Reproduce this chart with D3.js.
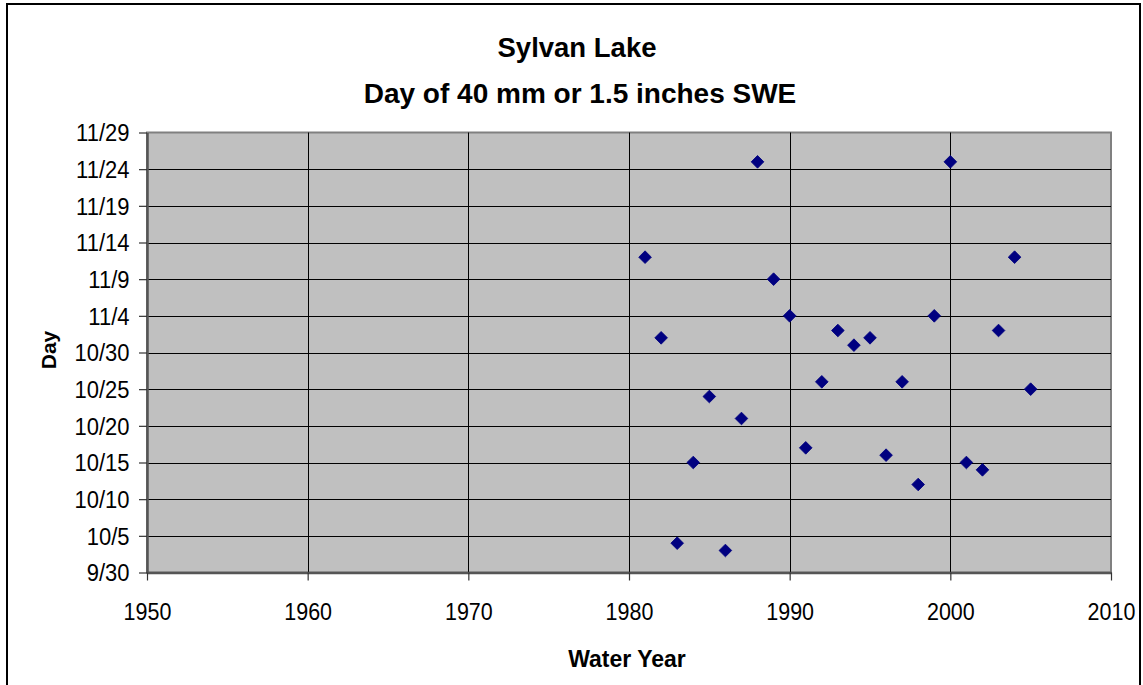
<!DOCTYPE html>
<html>
<head>
<meta charset="utf-8">
<script src="https://cdn.jsdelivr.net/npm/d3@7"></script>
<style>
  html, body { margin: 0; padding: 0; background: #ffffff; }
  svg { display: block; }
  text { font-family: "Liberation Sans", Arial, sans-serif; fill: #000; }
</style>
</head>
<body>
<svg id="chart" width="1143" height="685"></svg>
<script>
// ---- data ----
const titleLines = ["Sylvan Lake", "Day of 40 mm or 1.5 inches SWE"];
const xLabel = "Water Year";
const yLabel = "Day";
const years = [1981, 1982, 1983, 1984, 1985, 1986, 1987, 1988, 1989, 1990,
               1991, 1992, 1993, 1994, 1995, 1996, 1997, 1998, 1999, 2000,
               2001, 2002, 2003, 2004, 2005];
const days = ["11/12", "11/1", "10/4", "10/15", "10/24", "10/3", "10/21", "11/25", "11/9", "11/4",
              "10/17", "10/26", "11/2", "10/31", "11/1", "10/16", "10/26", "10/12", "11/4", "11/25",
              "10/15", "10/14", "11/2", "11/12", "10/25"];
const xTicks = [1950, 1960, 1970, 1980, 1990, 2000, 2010];
const yTickLabels = ["9/30", "10/5", "10/10", "10/15", "10/20", "10/25", "10/30",
                     "11/4", "11/9", "11/14", "11/19", "11/24", "11/29"];

// ---- layout ----
const W = 1143, H = 685;
const plot = { left: 147, right: 1111, top: 132.5, bottom: 572.5 };
const stretch = 1.12;

const parseDay = d3.utcParse("%m/%d");
const fmtDay = d3.utcFormat("%-m/%-d");
const yTickDates = yTickLabels.map(parseDay);

const x = d3.scaleLinear().domain([xTicks[0], xTicks[xTicks.length - 1]]).range([plot.left, plot.right]);
const y = d3.scaleUtc().domain([yTickDates[0], yTickDates[yTickDates.length - 1]]).range([plot.bottom, plot.top]);

const svg = d3.select("#chart");

// outer border
svg.append("rect").attr("x", 7).attr("y", 4).attr("width", 1133).attr("height", 690)
  .attr("fill", "#fff").attr("stroke", "#000").attr("stroke-width", 2);

// plot background
svg.append("rect").attr("x", plot.left).attr("y", plot.top)
  .attr("width", plot.right - plot.left).attr("height", plot.bottom - plot.top)
  .attr("fill", "#c0c0c0").attr("stroke", "#808080").attr("stroke-width", 2);

// gridlines
svg.append("g").selectAll("line").data(yTickDates.slice(1, -1)).join("line")
  .attr("x1", plot.left).attr("x2", plot.right)
  .attr("y1", d => Math.round(y(d)) + 0.5).attr("y2", d => Math.round(y(d)) + 0.5)
  .attr("stroke", "#000").attr("stroke-width", 1);
svg.append("g").selectAll("line").data(xTicks.slice(1, -1)).join("line")
  .attr("y1", plot.top).attr("y2", plot.bottom)
  .attr("x1", d => Math.round(x(d)) + 0.5).attr("x2", d => Math.round(x(d)) + 0.5)
  .attr("stroke", "#000").attr("stroke-width", 1);

// axes
const yAxis = d3.axisLeft(y).tickValues(yTickDates).tickFormat(fmtDay).tickSizeInner(8).tickSizeOuter(0);
const gy = svg.append("g").attr("transform", `translate(${plot.left},0)`).call(yAxis);
gy.select(".domain").attr("stroke", "#555").attr("stroke-width", 2.5);
gy.selectAll(".tick line").attr("stroke", "#333").attr("stroke-width", 1.2);
gy.selectAll(".tick text")
  .attr("font-size", 22).attr("font-family", "Liberation Sans, Arial, sans-serif").attr("fill", "#000")
  .attr("x", 0).attr("y", 0).attr("dy", null)
  .attr("transform", `translate(-17.5,8.3) scale(1,${stretch})`);

const xAxis = d3.axisBottom(x).tickValues(xTicks).tickFormat(d3.format("d")).tickSizeInner(8).tickSizeOuter(0);
const gx = svg.append("g").attr("transform", `translate(0,${plot.bottom})`).call(xAxis);
gx.select(".domain").attr("stroke", "#555").attr("stroke-width", 2.5);
gx.selectAll(".tick line").attr("stroke", "#333").attr("stroke-width", 1.2);
gx.selectAll(".tick text")
  .attr("font-size", 21.5).attr("font-family", "Liberation Sans, Arial, sans-serif").attr("fill", "#000")
  .attr("y", 0).attr("dy", null)
  .attr("transform", `translate(0,47.5) scale(1,${stretch})`);

// markers
const diamond = d3.symbol().type(d3.symbolSquare).size(80);
svg.append("g").selectAll("path").data(years.map((yr, i) => ({ yr, day: parseDay(days[i]) }))).join("path")
  .attr("d", diamond)
  .attr("transform", d => `translate(${x(d.yr)},${y(d.day)}) rotate(45)`)
  .attr("fill", "#000080").attr("stroke", "#000080").attr("stroke-width", 0.8);

// titles
svg.append("text").attr("x", 577).attr("y", 57).attr("text-anchor", "middle")
  .attr("font-size", 27.5).attr("font-weight", "bold").text(titleLines[0]);
svg.append("text").attr("x", 580).attr("y", 103).attr("text-anchor", "middle")
  .attr("font-size", 28).attr("font-weight", "bold").text(titleLines[1]);

// axis labels
svg.append("text").attr("x", (plot.left + plot.right) / 2 - 2).attr("y", 667).attr("text-anchor", "middle")
  .attr("font-size", 23).attr("font-weight", "bold").text(xLabel);
svg.append("text").attr("transform", `translate(56,350) rotate(-90)`)
  .attr("text-anchor", "middle").attr("font-size", 21).attr("font-weight", "bold").text(yLabel);
</script>
</body>
</html>
